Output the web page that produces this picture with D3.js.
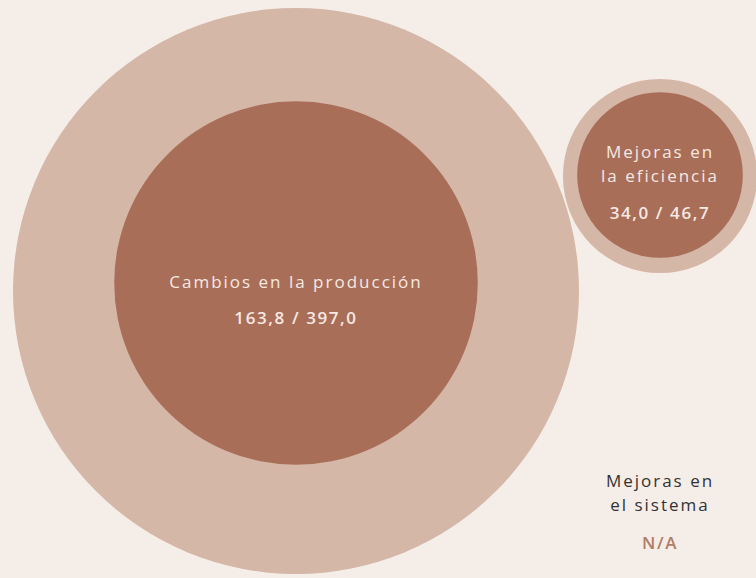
<!DOCTYPE html>
<html>
<head>
<meta charset="utf-8">
<script src="https://cdn.jsdelivr.net/npm/d3@7"></script>
<style>
  html, body { margin: 0; padding: 0; background: #f5ede8; }
  svg { display: block; }
  text { font-family: "Open Sans", "Lato", sans-serif; }
</style>
</head>
<body>
<div id="wrapper"></div>
<script>
const categories = ["Cambios en la producción", "Mejoras en la eficiencia", "Mejoras en el sistema"]
const achieved = [163.8, 34.0, null]
const potential = [397.0, 46.7, null]

function drawBubbles() {
    let dimensions = { width: 756, height: 578 }

    const wrapper = d3.select("#wrapper")
        .append("svg")
        .attr("width", dimensions.width)
        .attr("height", dimensions.height)

    wrapper.append("rect")
        .attr("width", dimensions.width)
        .attr("height", dimensions.height)
        .attr("fill", "#f5ede8")

    const rScale = d3.scaleSqrt()
        .domain([0, d3.max(potential)])
        .range([0, 283])

    const fmt = v => v == null ? "N/A" : d3.format(".1f")(v).replace(".", ",")

    // where each group sits, and how its label wraps
    const layout = [
        { cx: 296, cy: 291, innerCy: 283, lines: ["Cambios en la producción"], lineY: 288, valueY: 324 },
        { cx: 660, cy: 176, innerCy: 175, lines: ["Mejoras en", "la eficiencia"], lineY: 158, valueY: 219 },
        { cx: 660, cy: 500, innerCy: 500, lines: ["Mejoras en", "el sistema"], lineY: 487, valueY: 549 },
    ]

    const groups = categories.map((c, i) => ({
        name: c,
        achieved: achieved[i],
        potential: potential[i],
        ...layout[i]
    }))

    const bubbles = wrapper.selectAll("g.bubble")
        .data(groups)
        .join("g")
        .attr("class", "bubble")

    bubbles.filter(d => d.potential != null)
        .append("circle")
        .attr("cx", d => d.cx)
        .attr("cy", d => d.cy)
        .attr("r", d => rScale(d.potential))
        .attr("fill", "#d5b7a7")

    bubbles.filter(d => d.achieved != null)
        .append("circle")
        .attr("cx", d => d.cx)
        .attr("cy", d => d.innerCy)
        .attr("r", d => rScale(d.achieved))
        .attr("fill", "#a96e58")

    bubbles.each(function(d) {
        const g = d3.select(this)
        const hasData = d.achieved != null
        d.lines.forEach((line, j) => {
            g.append("text")
                .attr("x", d.cx)
                .attr("y", d.lineY + j * 24)
                .attr("text-anchor", "middle")
                .attr("font-size", 17)
                .attr("letter-spacing", 2)
                .attr("fill", hasData ? "#f6e9e3" : "#333333")
                .text(line)
        })
        g.append("text")
            .attr("x", d.cx)
            .attr("y", d.valueY)
            .attr("text-anchor", "middle")
            .attr("font-size", 17)
            .attr("font-weight", 600)
            .attr("letter-spacing", 1.6)
            .attr("fill", hasData ? "#f6e9e3" : "#b27c67")
            .text(hasData ? `${fmt(d.achieved)} / ${fmt(d.potential)}` : "N/A")
    })
}

drawBubbles()
</script>
</body>
</html>
